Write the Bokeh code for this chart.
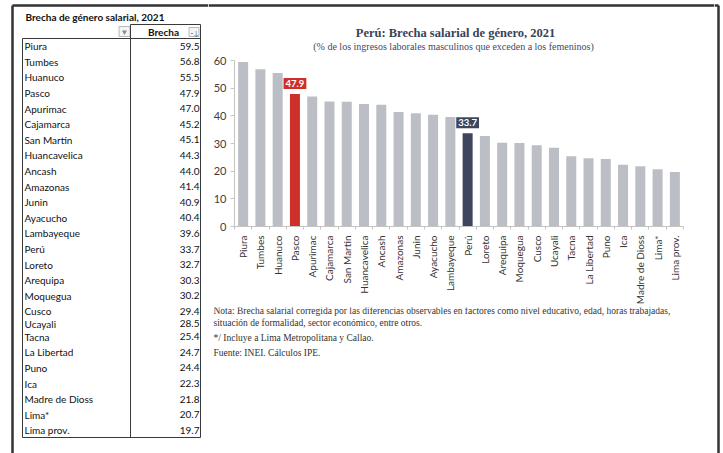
from bokeh.plotting import figure
from bokeh.layouts import row, column
from bokeh.models import Range1d, FixedTicker, Label
from bokeh.core.properties import value
from bokeh.embed import file_html
from bokeh.resources import INLINE

# ---------------- data ----------------
regions = ["Piura", "Tumbes", "Huanuco", "Pasco", "Apurimac", "Cajamarca",
           "San Martin", "Huancavelica", "Ancash", "Amazonas", "Junin",
           "Ayacucho", "Lambayeque", "Perú", "Loreto", "Arequipa", "Moquegua",
           "Cusco", "Ucayali", "Tacna", "La Libertad", "Puno", "Ica",
           "Madre de Dioss", "Lima*", "Lima prov."]
brecha = [59.5, 56.8, 55.5, 47.9, 47.0, 45.2, 45.1, 44.3, 44.0, 41.4, 40.9,
          40.4, 39.6, 33.7, 32.7, 30.3, 30.2, 29.4, 28.5, 25.4, 24.7, 24.4,
          22.3, 21.8, 20.7, 19.7]
y_ticks = [0, 10, 20, 30, 40, 50, 60]
table_title = "Brecha de género salarial, 2021"
table_header = "Brecha"
chart_title = "Perú: Brecha salarial de género, 2021"
chart_subtitle = "(% de los ingresos laborales masculinos que exceden a los femeninos)"
notes = ["Nota: Brecha salarial corregida por las diferencias observables en factores como nivel educativo, edad, horas trabajadas,",
         "situación de formalidad, sector económico, entre otros.",
         "*/ Incluye a Lima Metropolitana y Callao.",
         "Fuente: INEI. Cálculos IPE."]
highlight_colors = {"Pasco": "#cf2f2b", "Perú": "#3d465d"}

# ---------------- styles ----------------
BAR_GRAY = "#bbbfc5"
FRAME = "#333333"
SANS = value("Lato")
SERIF = value("Liberation Serif")
H = 453


def pixel_fig(w, h):
    f = figure(width=w, height=h, x_range=Range1d(0, w), y_range=Range1d(h, 0),
               output_backend="svg", toolbar_location=None, frame_align=False,
               x_axis_location=None, y_axis_location=None,
               min_border=0, min_border_left=0, min_border_right=0,
               min_border_top=0, min_border_bottom=0)
    f.outline_line_color = None
    f.background_fill_color = "white"
    f.border_fill_color = "white"
    f.xgrid.visible = False
    f.ygrid.visible = False
    return f


# ---------------- table (screen x 0..208) ----------------
TW = 208
t = pixel_fig(TW, H)
t.segment(x0=[12, 12], y0=[5, 5], x1=[12, TW], y1=[H, 5], line_color=FRAME, line_width=2.5)
t.text(x=[25], y=[16.5], text=[table_title], text_font=SANS, text_font_size="10px",
       text_font_style="bold", text_baseline="middle", text_color="#111111")
# header
t.text(x=[163], y=[31.5], text=[table_header], text_font=SANS, text_font_size="10px",
       text_font_style="bold", text_align="center", text_baseline="middle", text_color="#111111")
t.rect(x=[124, 193.5], y=[31, 31.5], width=[11, 10], height=[10, 9], fill_color="#f4f4f4",
       line_color="#a8a8a8", line_width=0.8)
t.scatter(x=[124], y=[31.5], marker="inverted_triangle", size=5, fill_color="#8a8a8a", line_color=None)
t.text(x=[195.5], y=[32], text=["↓"], text_font=SANS, text_font_size="7px", text_align="center",
       text_baseline="middle", text_color="#5a6f9a")
t.segment(x0=[190.5], y0=[33], x1=[192.5], y1=[33], line_color="#5a6f9a", line_width=0.8)

tx0, tdiv, tx1 = 22, 130, 200
ttop, thead, tbot = 38, 24, 437
t.segment(x0=[tx0, tdiv, tx0, tx0, tdiv, tx1],
          y0=[ttop, thead, ttop, tbot, thead, thead],
          x1=[tx0, tdiv, tx1, tx1, tx1, tx1],
          y1=[tbot, tbot, ttop, tbot, thead, tbot],
          line_color="#3a3a3a", line_width=1)

# row centres: regular spacing, Cusco / Ucayali rows are tighter
gaps = [15.6] * (len(regions) - 1)
gaps[17] = 12.3
gaps[18] = 13.0
centers = [45.7]
for g in gaps:
    centers.append(centers[-1] + g)
t.text(x=[24] * len(regions), y=centers, text=regions, text_font=SANS, text_font_size="10px",
       text_baseline="middle", text_color="#111111")
t.text(x=[199] * len(regions), y=centers, text=[f"{v:.1f}" for v in brecha], text_font=SANS,
       text_font_size="10px", text_align="right", text_baseline="middle", text_color="#111111")

# ---------------- chart title (screen x 208..714, y 0..52) ----------------
CW = 506
TH = 52
tt = pixel_fig(CW, TH)
tt.segment(x0=[0], y0=[5], x1=[CW], y1=[5], line_color=FRAME, line_width=2.5)
tt.text(x=[247], y=[32], text=[chart_title], text_font=SERIF, text_font_size="12.5px",
        text_font_style="bold", text_align="center", text_baseline="middle", text_color="#3a4259")
tt.text(x=[245], y=[46], text=[chart_subtitle], text_font=SERIF, text_font_size="10px",
        text_align="center", text_baseline="middle", text_color="#3c4a6a")

# ---------------- bar chart (screen y 52..307) ----------------
PH = 255
idx = list(range(len(regions)))
colors = [highlight_colors.get(r, BAR_GRAY) for r in regions]
p = figure(width=CW, height=PH, x_range=Range1d(-0.5, len(regions) - 0.5),
           y_range=Range1d(0, 60), output_backend="svg", toolbar_location=None,
           frame_align=False,
           min_border_left=26, min_border_right=31, min_border_top=8, min_border_bottom=81)
p.outline_line_color = None
p.background_fill_color = "white"
p.border_fill_color = "white"
p.xgrid.visible = False
p.ygrid.visible = False
p.vbar(x=idx, top=brecha, width=0.58, fill_color=colors, line_color=None)

p.xaxis.ticker = FixedTicker(ticks=idx, minor_ticks=[i - 0.5 for i in range(len(regions) + 1)])
p.xaxis.major_label_overrides = {i: r for i, r in zip(idx, regions)}
p.xaxis.major_label_orientation = 3.14159265 / 2
p.xaxis.major_tick_line_color = None
p.xaxis.major_tick_out = 0
p.xaxis.major_tick_in = 0
p.xaxis.minor_tick_out = 3
p.xaxis.minor_tick_in = 0
p.xaxis.minor_tick_line_color = "#c4c4c4"
p.xaxis.axis_line_color = "#c4c4c4"
p.xaxis.major_label_standoff = 6
p.xaxis.major_label_text_font = "Lato"
p.xaxis.major_label_text_font_size = "10px"
p.xaxis.major_label_text_color = "#333333"

p.yaxis.ticker = FixedTicker(ticks=y_ticks)
p.yaxis.major_tick_out = 4
p.yaxis.major_tick_in = 0
p.yaxis.minor_tick_line_color = None
p.yaxis.major_tick_line_color = "#c4c4c4"
p.yaxis.axis_line_color = "#c4c4c4"
p.yaxis.major_label_standoff = 4
p.yaxis.major_label_text_font = "Lato"
p.yaxis.major_label_text_font_size = "11px"
p.yaxis.major_label_text_color = "#3c3c3c"

for name, col in highlight_colors.items():
    i = regions.index(name)
    p.add_layout(Label(x=i, y=brecha[i], text=f"{brecha[i]:.1f}", text_align="center",
                       text_baseline="bottom", y_offset=5, text_color="white",
                       text_font="Lato", text_font_style="bold", text_font_size="9.5px",
                       background_fill_color=col, padding=2))

# ---------------- notes (screen y 307..453) ----------------
NY0 = TH + PH
nf = pixel_fig(CW, H - NY0)
note_screen_y = [310, 322, 337, 352]
nf.text(x=[5] * len(notes), y=[yy - NY0 for yy in note_screen_y], text=notes, text_font=SERIF,
        text_font_size="9.5px", text_baseline="middle", text_color="#333333")

# ---------------- right frame (screen x 714..723) ----------------
rf = pixel_fig(9, H)
rf.segment(x0=[0, 4], y0=[5, 5], x1=[4, 4], y1=[5, H], line_color=FRAME, line_width=2.5)

layout = row(t, column(tt, p, nf), rf)
open("out.html", "w").write(file_html(layout, INLINE))
